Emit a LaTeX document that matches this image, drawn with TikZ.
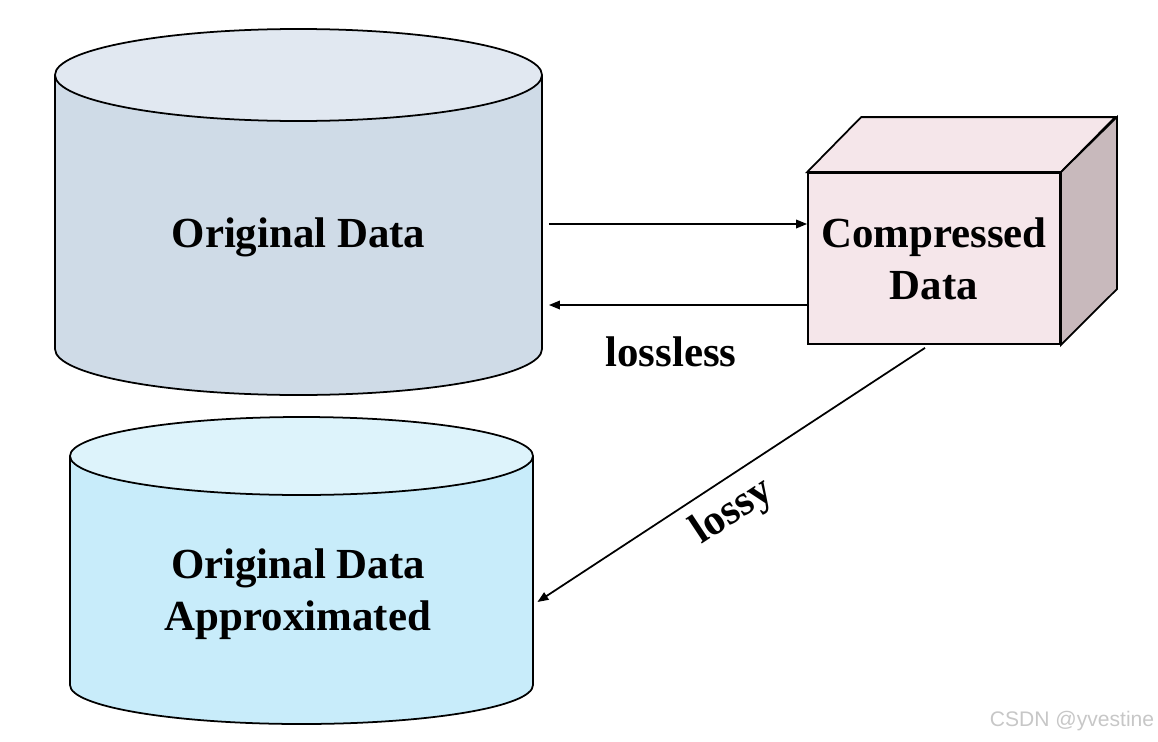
\documentclass[tikz,border=0pt]{standalone}
\usepackage{fontspec}
\setmainfont{Liberation Serif}
\newfontfamily\wmfont{Liberation Sans}
\usepackage{tikz}
\usepackage{xcolor}
\usetikzlibrary{arrows.meta}

\definecolor{origbody}{HTML}{CFDBE7}
\definecolor{origtop}{HTML}{E1E8F1}
\definecolor{apxbody}{HTML}{C8ECFA}
\definecolor{apxtop}{HTML}{DDF3FB}
\definecolor{cubefront}{HTML}{F5E6EA}
\definecolor{cubeside}{HTML}{C8B9BC}

\begin{document}
\begin{tikzpicture}[line width=0.5pt, >={Triangle[length=1.1mm,width=0.85mm]},
  label/.style={font=\fontsize{12.2}{14.8}\selectfont\bfseries, align=center, inner sep=0pt}]
  \useasboundingbox (0,0) rectangle (11.58,7.41);

  \fill[origbody] (0.55,6.66) -- (0.55,3.92) arc[start angle=180, end angle=360, x radius=2.435, y radius=0.46] -- (5.42,6.66) -- cycle;
  \draw (0.55,6.66) -- (0.55,3.92) arc[start angle=180, end angle=360, x radius=2.435, y radius=0.46] -- (5.42,6.66);
  \draw[fill=origtop] (2.985,6.66) ellipse [x radius=2.435, y radius=0.46];

  \fill[apxbody] (0.70,2.85) -- (0.70,0.56) arc[start angle=180, end angle=360, x radius=2.315, y radius=0.39] -- (5.33,2.85) -- cycle;
  \draw (0.70,2.85) -- (0.70,0.56) arc[start angle=180, end angle=360, x radius=2.315, y radius=0.39] -- (5.33,2.85);
  \draw[fill=apxtop] (3.015,2.85) ellipse [x radius=2.315, y radius=0.39];

  \node (orig) [label, minimum width=4.87cm] at (2.985,5.04) {Original Data};
  \node (apx) [label, minimum width=4.63cm] at (2.98,1.47) {Original Data\\Approximated};

  \node (comp) [label, draw, fill=cubefront, minimum width=2.52cm, minimum height=1.71cm] at (9.34,4.825) {Compressed\\Data};
  \draw[fill=cubefront] (comp.north west) -- ++(0.54,0.55) -- ++(2.54,0) -- (comp.north east) -- cycle;
  \draw[fill=cubeside] (comp.north east) -- ++(0.56,0.55) -- ++(0,-1.72) -- (comp.south east) -- cycle;

  \draw[->] ([xshift=0.06cm, yshift=0.13cm]orig.east) -- ([yshift=0.345cm]comp.west);
  \draw[->] ([yshift=-0.465cm]comp.west) -- ([xshift=0.06cm, yshift=-0.68cm]orig.east);
  \draw[->] ([xshift=-0.09cm, yshift=-0.03cm]comp.south) -- ([xshift=0.07cm, yshift=-0.08cm]apx.east);

  \node (lossless) [label] at (6.71,3.89) {lossless};
  \node (lossy) [label, rotate=33.5] at (7.33,2.29) {lossy};

  \node (mark) [font=\wmfont\fontsize{6}{7}\selectfont, text=black!22] at (10.72,0.20) {CSDN @yvestine};
\end{tikzpicture}
\end{document}
